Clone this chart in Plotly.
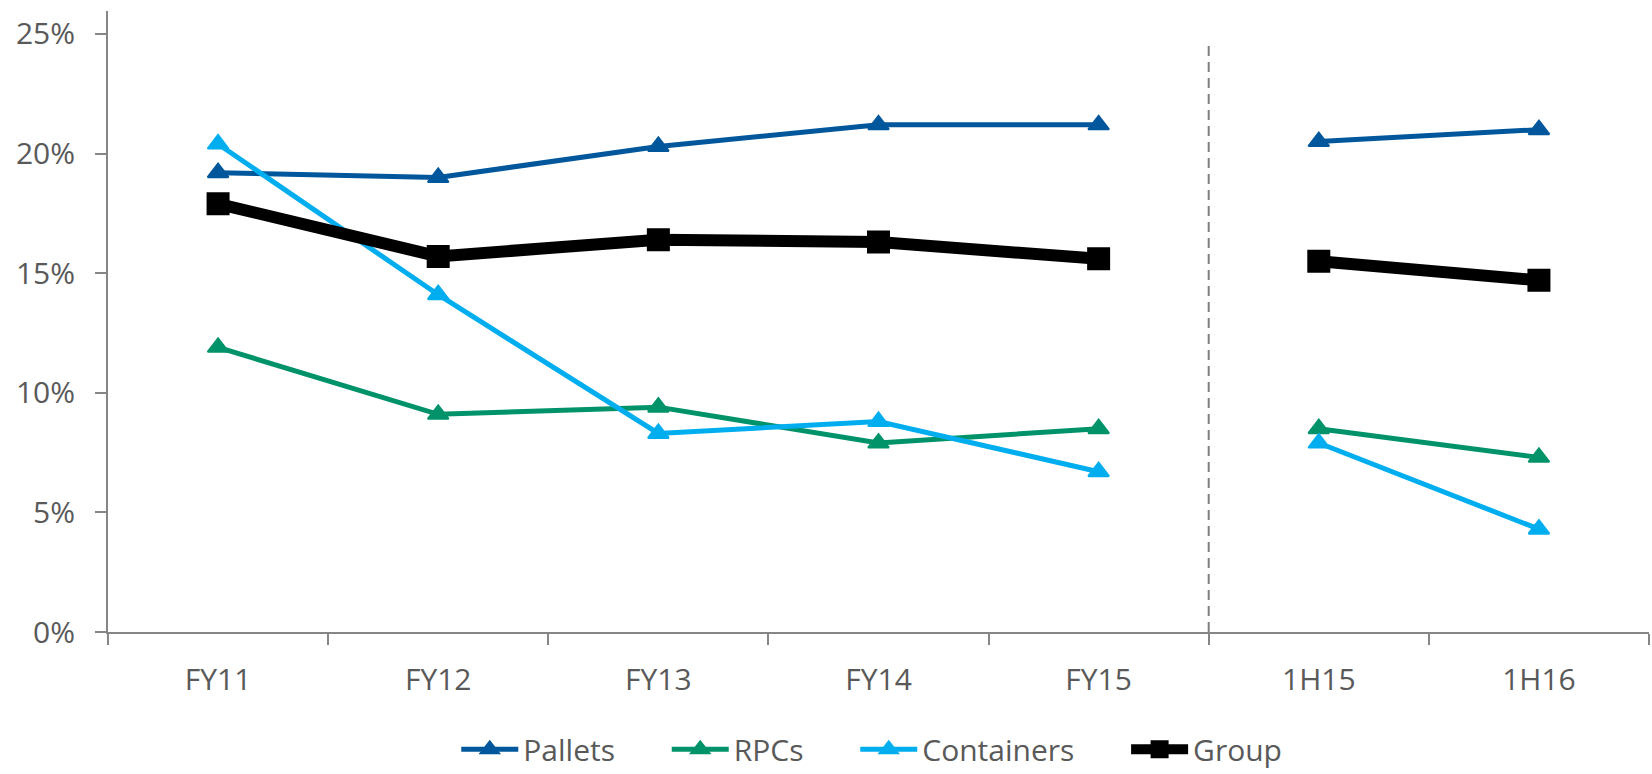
import plotly.graph_objects as go

# Margin by business segment, FY11-FY15 and half-years
categories = ["FY11", "FY12", "FY13", "FY14", "FY15", "1H15", "1H16"]
pallets = [19.2, 19.0, 20.3, 21.2, 21.2, 20.5, 21.0]
rpcs = [11.9, 9.1, 9.4, 7.9, 8.5, 8.5, 7.3]
containers = [20.4, 14.1, 8.3, 8.8, 6.7, 7.9, 4.3]
group = [17.9, 15.7, 16.4, 16.3, 15.6, 15.5, 14.7]

y_ticks = [0, 5, 10, 15, 20, 25]
y_tick_labels = ["0%", "5%", "10%", "15%", "20%", "25%"]

# full years and half years are drawn as separate segments
split = 5

# trailing non-breaking spaces keep a wider gap between legend entries
legend_pad = "\u00a0" * 6

series = [
    ("Pallets", pallets, "#00579C", 5, "triangle-up", 18),
    ("RPCs", rpcs, "#00936A", 5, "triangle-up", 18),
    ("Containers", containers, "#00AEEF", 5, "triangle-up", 18),
    ("Group", group, "#000000", 12, "square", 21),
]

fig = go.Figure()
for name, vals, color, lw, sym, msize in series:
    for part, (xs, ys) in enumerate([(categories[:split], vals[:split]),
                                     (categories[split:], vals[split:])]):
        fig.add_trace(go.Scatter(
            x=xs, y=ys, name=name + legend_pad, mode="lines+markers",
            legendgroup=name, showlegend=(part == 0),
            line=dict(color=color, width=lw),
            marker=dict(symbol=sym, size=msize, color=color,
                        line=dict(color=color, width=2)),
            hoverinfo="skip",
        ))

# divider between full-year and half-year periods
fig.add_shape(type="line", xref="x", yref="y", x0=4.5, x1=4.5, y0=0, y1=24.5,
              line=dict(color="#7F7F7F", width=2, dash="10px,6px"))

axis_font = dict(family="Open Sans", size=30, color="#595959")

fig.update_layout(
    width=1652, height=774,
    margin=dict(l=108, r=3, t=11, b=142, autoexpand=False),
    paper_bgcolor="white", plot_bgcolor="white",
    font=axis_font,
    showlegend=True,
    legend=dict(orientation="h", x=0.226, xanchor="left", y=-0.189,
                yanchor="middle", font=axis_font, itemwidth=57,
                bgcolor="rgba(0,0,0,0)"),
    xaxis=dict(type="category", categoryorder="array", categoryarray=categories,
               range=[-0.5, 6.5], tickson="boundaries", ticks="outside",
               ticklen=11, tickwidth=2, tickcolor="#868686",
               showline=True, linecolor="#868686", linewidth=2,
               showgrid=False, zeroline=False, tickfont=axis_font,
               ticklabelstandoff=20),
    yaxis=dict(range=[0, 25.96], tickmode="array", tickvals=y_ticks,
               ticktext=y_tick_labels, ticks="outside", ticklen=11, tickwidth=2,
               tickcolor="#868686", showline=True, linecolor="#868686",
               linewidth=2, showgrid=False, zeroline=False,
               tickfont=axis_font, ticklabelstandoff=14),
)

fig.write_html("out.html")
